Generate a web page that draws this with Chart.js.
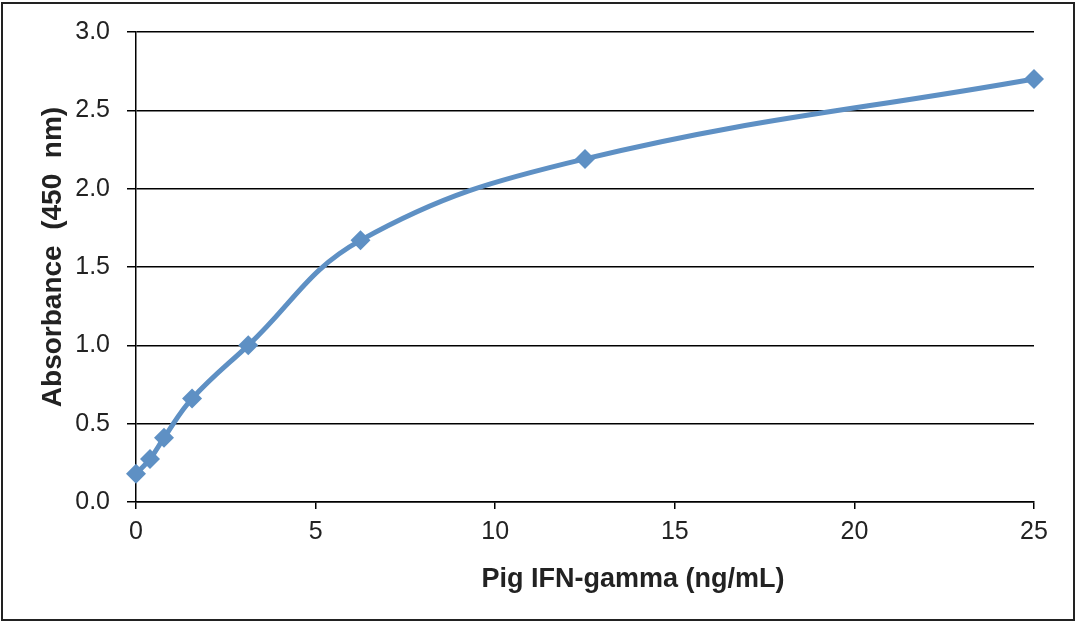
<!DOCTYPE html>
<html>
<head>
<meta charset="utf-8">
<script src="https://cdn.jsdelivr.net/npm/chart.js@4"></script>
<style>
    html, body { margin: 0; padding: 0; background: #fff; }
    #grafico { display: block; }
</style>
</head>
<body>
<canvas id="grafico" width="1080" height="623"></canvas>
<script>
const concentraciones = [0, 0.39, 0.78, 1.56, 3.125, 6.25, 12.5, 25];
const absorbancias = [0.18, 0.275, 0.41, 0.66, 1.0, 1.67, 2.19, 2.70];
const tituloX = 'Pig IFN-gamma (ng/mL)';
const tituloY = 'Absorbance  (450  nm)';

const puntos = concentraciones.map((c, i) => ({ x: c, y: absorbancias[i] }));

// marco y titulos de ejes
const marcoYTitulos = {
    id: 'marcoYTitulos',
    afterDraw(chart) {
        const ctx = chart.ctx;
        ctx.save();
        ctx.strokeStyle = '#222';
        ctx.lineWidth = 2;
        ctx.strokeRect(2, 3, 1072, 617);

        ctx.fillStyle = '#222';
        ctx.font = 'bold 27px "Liberation Sans", Arial, sans-serif';
        ctx.textAlign = 'center';
        ctx.textBaseline = 'middle';
        ctx.fillText(tituloX, 633, 580);

        ctx.font = 'bold 28px "Liberation Sans", Arial, sans-serif';
        ctx.translate(53, 257);
        ctx.rotate(-Math.PI / 2);
        ctx.fillText(tituloY, 0, 0);
        ctx.restore();
    }
};

const fuenteTicks = { family: '"Liberation Sans", Arial, sans-serif', size: 25 };

new Chart(document.getElementById('grafico').getContext('2d'), {
    type: 'line',
    data: {
        datasets: [{
            data: puntos,
            borderColor: '#5e90c4',
            backgroundColor: '#5e90c4',
            borderWidth: 5,
            tension: 0.4,
            clip: false,
            pointStyle: 'rectRot',
            pointRadius: 10,
            pointHoverRadius: 10,
            pointBorderWidth: 0,
            fill: false
        }]
    },
    options: {
        responsive: false,
        animation: false,
        layout: { padding: { left: 0, top: 32, right: 46, bottom: 0 } },
        plugins: {
            legend: { display: false },
            tooltip: { enabled: false }
        },
        scales: {
            x: {
                type: 'linear',
                min: 0,
                max: 25,
                afterFit: s => { s.height = 121; },
                ticks: { stepSize: 5, color: '#222', font: fuenteTicks, padding: 8, maxRotation: 0 },
                grid: { drawOnChartArea: false, drawTicks: true, tickLength: 7, color: '#000', lineWidth: 1.5 },
                border: { color: '#000', width: 1.5 }
            },
            y: {
                min: 0,
                max: 3,
                afterFit: s => { s.width = 136; },
                ticks: {
                    stepSize: 0.5,
                    color: '#222',
                    font: fuenteTicks,
                    padding: 17,
                    callback: v => v.toFixed(1)
                },
                grid: { color: '#000', lineWidth: 1.5, tickLength: 9 },
                border: { color: '#000', width: 1.5 }
            }
        }
    },
    plugins: [marcoYTitulos]
});
</script>
</body>
</html>
